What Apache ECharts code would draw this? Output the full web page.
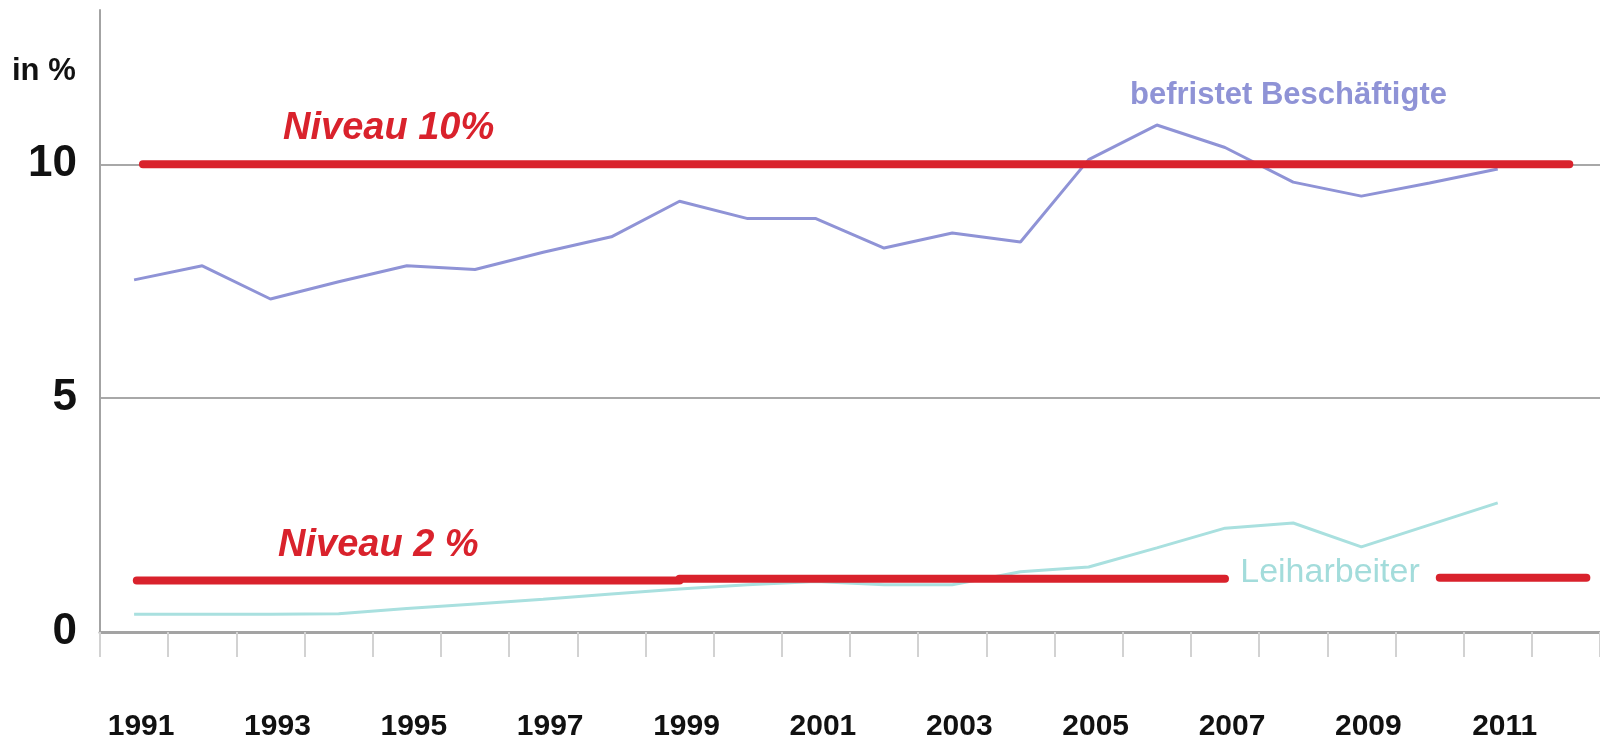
<!DOCTYPE html>
<html>
<head>
<meta charset="utf-8">
<script src="https://cdn.jsdelivr.net/npm/echarts@6/dist/echarts.min.js"></script>
<style>
  html, body { margin: 0; padding: 0; background: #ffffff; }
  #chart { width: 1600px; height: 742px; }
</style>
</head>
<body>
<div id="chart"></div>
<script>
// ---- data ----
const years = ['1991','1992','1993','1994','1995','1996','1997','1998','1999','2000',
               '2001','2002','2003','2004','2005','2006','2007','2008','2009','2010','2011','2012'];
const befristet = [7.53, 7.83, 7.12, 7.49, 7.83, 7.75, 8.12, 8.45, 9.21, 8.84,
                   8.84, 8.21, 8.53, 8.34, 10.10, 10.84, 10.36, 9.62, 9.32, 9.60, 9.90, null];
const leiharbeiter = [0.38, 0.38, 0.38, 0.39, 0.50, 0.60, 0.70, 0.81, 0.92, 1.01,
                      1.08, 1.01, 1.01, 1.29, 1.39, 1.80, 2.22, 2.33, 1.82, 2.29, 2.76, null];
const yTicks = [0, 5, 10];
// reference levels (x in years, y in %)
const level10 = [[1991.13, 10], [2012.05, 10]];
const level2a = [[1991.04, 1.10], [1999.00, 1.10]];
const level2b = [[1999.00, 1.14], [2007.00, 1.14]];
const level2c = [[2010.15, 1.16], [2012.30, 1.16]];

const chart = echarts.init(document.getElementById('chart'), null, { renderer: 'canvas' });
const FONT = 'Liberation Sans, Arial, sans-serif';
const RED = '#d9222c';

const redLine = (data) => ({
  type: 'line', xAxisIndex: 1, yAxisIndex: 0, data: data,
  symbol: 'none', silent: true, z: 5, animation: false,
  lineStyle: { color: RED, width: 8, cap: 'round' }
});

chart.setOption({
  backgroundColor: '#ffffff',
  animation: false,
  grid: { left: 100, top: 10, width: 1507, height: 623, containLabel: false },
  xAxis: [
    {
      type: 'category', data: years, boundaryGap: true,
      axisLine: { show: true, lineStyle: { color: '#a3a3a3', width: 3 } },
      axisTick: { show: true, interval: 0, length: 25, lineStyle: { color: '#d2d2d2', width: 2 } },
      axisLabel: { interval: 1, margin: 80, padding: [0, 0, 0, 14], fontFamily: FONT, fontSize: 30, fontWeight: 'bold', color: '#111111' },
      splitLine: { show: false }
    },
    { type: 'value', min: 1990.5, max: 2012.5, show: false }
  ],
  yAxis: {
    type: 'value', min: 0, max: 13.3, interval: 5,
    axisLine: { show: true, lineStyle: { color: '#a3a3a3', width: 2 } },
    axisTick: { show: false },
    axisLabel: {
      margin: 23, fontFamily: FONT, fontSize: 44, fontWeight: 'bold', color: '#111111',
      showMaxLabel: false,
      formatter: (v) => yTicks.indexOf(v) >= 0 ? String(v) : ''
    },
    splitLine: { show: true, showMinLine: false, showMaxLine: false, lineStyle: { color: '#a8a8a8', width: 2 } }
  },
  series: [
    {
      name: 'befristet Beschäftigte', type: 'line', data: befristet,
      symbol: 'none', z: 3, lineStyle: { color: '#8f93d6', width: 3 }
    },
    {
      name: 'Leiharbeiter', type: 'line', data: leiharbeiter,
      symbol: 'none', z: 3, lineStyle: { color: '#a9e0df', width: 3 }
    },
    redLine(level10),
    redLine(level2a),
    redLine(level2b),
    redLine(level2c)
  ],
  graphic: [
    { type: 'text', left: 12, top: 56, z: 10,
      style: { text: 'in %', font: 'bold 31px ' + FONT, fill: '#111111' } },
    { type: 'text', x: 283, y: 129, z: 10,
      style: { text: 'Niveau 10%', font: 'italic bold 38px ' + FONT, fill: RED, textVerticalAlign: 'middle' } },
    { type: 'text', x: 278, y: 546, z: 10,
      style: { text: 'Niveau 2 %', font: 'italic bold 38px ' + FONT, fill: RED, textVerticalAlign: 'middle' } },
    { type: 'text', x: 1130, y: 95, z: 10,
      style: { text: 'befristet Beschäftigte', font: 'bold 31px ' + FONT, fill: '#8f93d6', textVerticalAlign: 'middle' } },
    { type: 'text', x: 1330, y: 573, z: 10,
      style: { text: 'Leiharbeiter', font: '34px ' + FONT, fill: '#a3dcdb', textAlign: 'center', textVerticalAlign: 'middle' } }
  ]
});
</script>
</body>
</html>
